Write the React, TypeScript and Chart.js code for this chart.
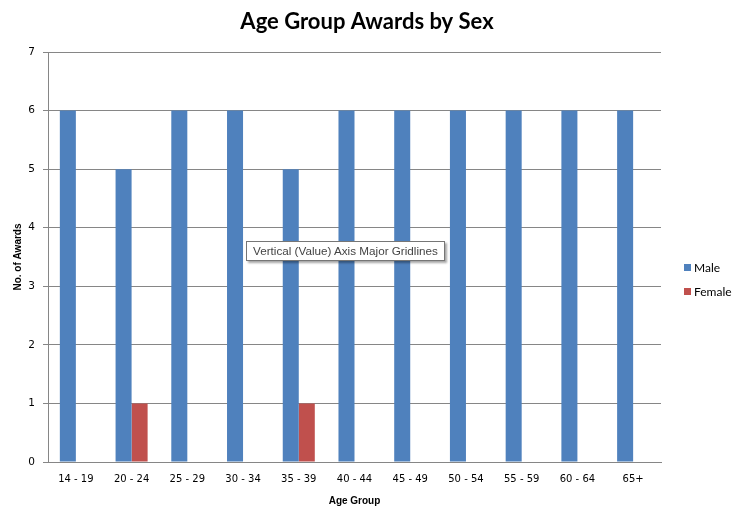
import React, { useEffect, useRef } from 'react';
import { Chart, registerables } from 'chart.js';

Chart.register(...registerables);

const chartTitle = 'Age Group Awards by Sex';
const xAxisTitle = 'Age Group';
const yAxisTitle = 'No. of Awards';
const categories = ['14 - 19', '20 - 24', '25 - 29', '30 - 34', '35 - 39', '40 - 44', '45 - 49', '50 - 54', '55 - 59', '60 - 64', '65+'];
const maleAwards = [6, 5, 6, 6, 5, 6, 6, 6, 6, 6, 6];
const femaleAwards = [0, 1, 0, 0, 1, 0, 0, 0, 0, 0, 0];
const seriesNames = ['Male', 'Female'];
const seriesColors = ['#4F81BD', '#C0504D'];
const yMin = 0;
const yMax = 7;
const yStep = 1;
const tooltipText = 'Vertical (Value) Axis Major Gridlines';

const titlePlugin = {
  id: 'centerTitle',
  afterDraw(chart: any) {
    const ctx = chart.ctx;
    ctx.save();
    ctx.font = 'bold 22px Lato, "Open Sans", sans-serif';
    ctx.textAlign = 'center';
    ctx.textBaseline = 'middle';
    ctx.fillStyle = '#000';
    ctx.fillText(chartTitle, chart.width / 2 - 4, 22);
    ctx.restore();
  },
};

const legendPlugin = {
  id: 'sideLegend',
  afterDraw(chart: any) {
    const ctx = chart.ctx;
    const area = chart.chartArea;
    const cy = (area.top + area.bottom) / 2;
    const x = area.right + 23;
    ctx.save();
    ctx.font = '12px Lato, "Open Sans", sans-serif';
    ctx.textBaseline = 'middle';
    chart.data.datasets.forEach((ds: any, i: number) => {
      const y = cy + 11 + i * 24;
      ctx.fillStyle = ds.backgroundColor;
      ctx.fillRect(x, y - 4, 7, 7);
      ctx.fillStyle = '#000';
      ctx.fillText(ds.label, x + 10, y);
    });
    ctx.restore();
  },
};

export default function App() {
  const ref = useRef<HTMLCanvasElement>(null);
  useEffect(() => {
    if (!ref.current) return;
    const chart = new Chart(ref.current, {
      type: 'bar',
      data: {
        labels: categories,
        datasets: [
          { label: seriesNames[0], data: maleAwards, backgroundColor: seriesColors[0], categoryPercentage: 0.575, barPercentage: 1 },
          { label: seriesNames[1], data: femaleAwards, backgroundColor: seriesColors[1], categoryPercentage: 0.575, barPercentage: 1 },
        ],
      },
      options: {
        animation: false,
        responsive: false,
        layout: { padding: { left: 8, right: 81, top: 52, bottom: 8 } },
        plugins: {
          legend: { display: false },
          tooltip: { enabled: false },
          title: { display: false },
        },
        scales: {
          x: {
            grid: { display: false, drawTicks: false },
            border: { display: true, color: '#868686' },
            ticks: { color: '#000', font: { family: '"DejaVu Sans", sans-serif', size: 10 }, padding: 11, maxRotation: 0, autoSkip: false },
            title: { display: true, text: xAxisTitle, color: '#000', font: { family: '"Liberation Sans", Arial, sans-serif', size: 10, weight: 'bold' }, padding: { top: 5, bottom: 4 } },
            afterFit: (s: any) => { s.height = 49; },
          },
          y: {
            min: yMin,
            max: yMax,
            grid: { color: '#868686', tickLength: 5, drawTicks: true },
            border: { display: true, color: '#868686' },
            ticks: { stepSize: yStep, color: '#000', font: { family: '"DejaVu Sans", sans-serif', size: 10.5 }, padding: 8 },
            title: { display: true, text: yAxisTitle, color: '#000', font: { family: '"Liberation Sans", Arial, sans-serif', size: 10, weight: 'bold' }, padding: { top: 4, bottom: 4 } },
            afterFit: (s: any) => { s.width = 40; },
          },
        },
      },
      plugins: [titlePlugin, legendPlugin],
    });
    return () => chart.destroy();
  }, []);
  return (
    <div style={{ position: 'fixed', left: 0, top: 0, width: 742, height: 519, background: '#fff' }}>
      <canvas ref={ref} width={742} height={519} style={{ display: 'block' }} />
      <div
        style={{
          position: 'absolute',
          left: 246,
          top: 241,
          height: 20,
          padding: '0 6px',
          boxSizing: 'border-box',
          border: '1px solid #767676',
          background: '#fff',
          boxShadow: '2px 2px 2px rgba(0,0,0,0.35)',
          font: '11.7px "Liberation Sans", Arial, sans-serif',
          lineHeight: '18px',
          color: '#444',
          whiteSpace: 'nowrap',
        }}
      >
        {tooltipText}
      </div>
    </div>
  );
}
